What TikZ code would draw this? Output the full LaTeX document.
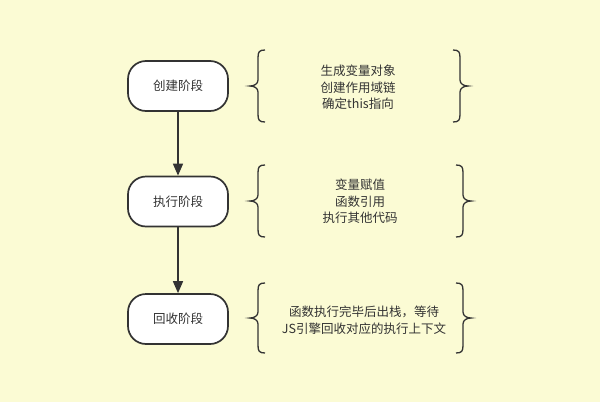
\documentclass[tikz,border=0pt]{standalone}
\usepackage{fontspec}
\setmainfont{Noto Sans CJK SC}
\usetikzlibrary{arrows.meta}
\definecolor{bgc}{HTML}{FBFBD4}
\definecolor{ink}{HTML}{333333}
\tikzset{
  stagebox/.style={draw=ink, line width=1.7pt, fill=white, rounded corners=18pt,
    minimum width=100pt, minimum height=50pt, inner sep=0pt, font=\fontsize{12.5}{16}\selectfont, text=ink},
  desc/.style={align=center, font=\fontsize{12.5}{16.5}\selectfont, text=ink, inner sep=0pt},
  flow/.style={draw=ink, line width=1.6pt, -{Triangle[length=12pt,width=10pt]}},
  bracel/.style={draw=ink, line width=1.3pt}
}
\newcommand{\leftbrc}[3]{% x top bottom
  \pgfmathsetmacro{\bmid}{(#2+#3)/2}
  \draw[bracel] (#1+15,#2) .. controls (#1+9,#2) and (#1+8,#2+2) .. (#1+8,#2+8)
    -- (#1+8,\bmid-6) .. controls (#1+8,\bmid-2) and (#1+4,\bmid) .. (#1,\bmid)
    .. controls (#1+4,\bmid) and (#1+8,\bmid+2) .. (#1+8,\bmid+6)
    -- (#1+8,#3-8) .. controls (#1+8,#3-2) and (#1+9,#3) .. (#1+15,#3);}
\newcommand{\rightbrc}[3]{% x(tip) top bottom
  \pgfmathsetmacro{\bmid}{(#2+#3)/2}
  \draw[bracel] (#1-15,#2) .. controls (#1-9,#2) and (#1-8,#2+2) .. (#1-8,#2+8)
    -- (#1-8,\bmid-6) .. controls (#1-8,\bmid-2) and (#1-4,\bmid) .. (#1,\bmid)
    .. controls (#1-4,\bmid) and (#1-8,\bmid+2) .. (#1-8,\bmid+6)
    -- (#1-8,#3-8) .. controls (#1-8,#3-2) and (#1-9,#3) .. (#1-15,#3);}
\begin{document}
\begin{tikzpicture}[x=1pt,y=-1pt]
\fill[bgc] (0,0) rectangle (600,402);
\useasboundingbox (0,0) rectangle (600,402);
\node[stagebox] (s1) at (178,86) {创建阶段};
\node[stagebox] (s2) at (178,201.5) {执行阶段};
\node[stagebox] (s3) at (178,319) {回收阶段};
\draw[flow] (s1) -- (s2);
\draw[flow] (s2) -- (s3);
\node[desc] (d1) at (358,87.5) {生成变量对象\\创建作用域链\\确定this指向};
\node[desc] (d2) at (360,201.5) {变量赋值\\函数引用\\执行其他代码};
\node[desc] (d3) at (364,320) {函数执行完毕后出栈，等待\\JS引擎回收对应的执行上下文};
\leftbrc{250}{50}{122}
\rightbrc{468}{50}{122}
\leftbrc{250}{165}{237}
\rightbrc{471}{165}{237}
\leftbrc{250}{283}{353}
\rightbrc{471}{283}{353}
\end{tikzpicture}
\end{document}
